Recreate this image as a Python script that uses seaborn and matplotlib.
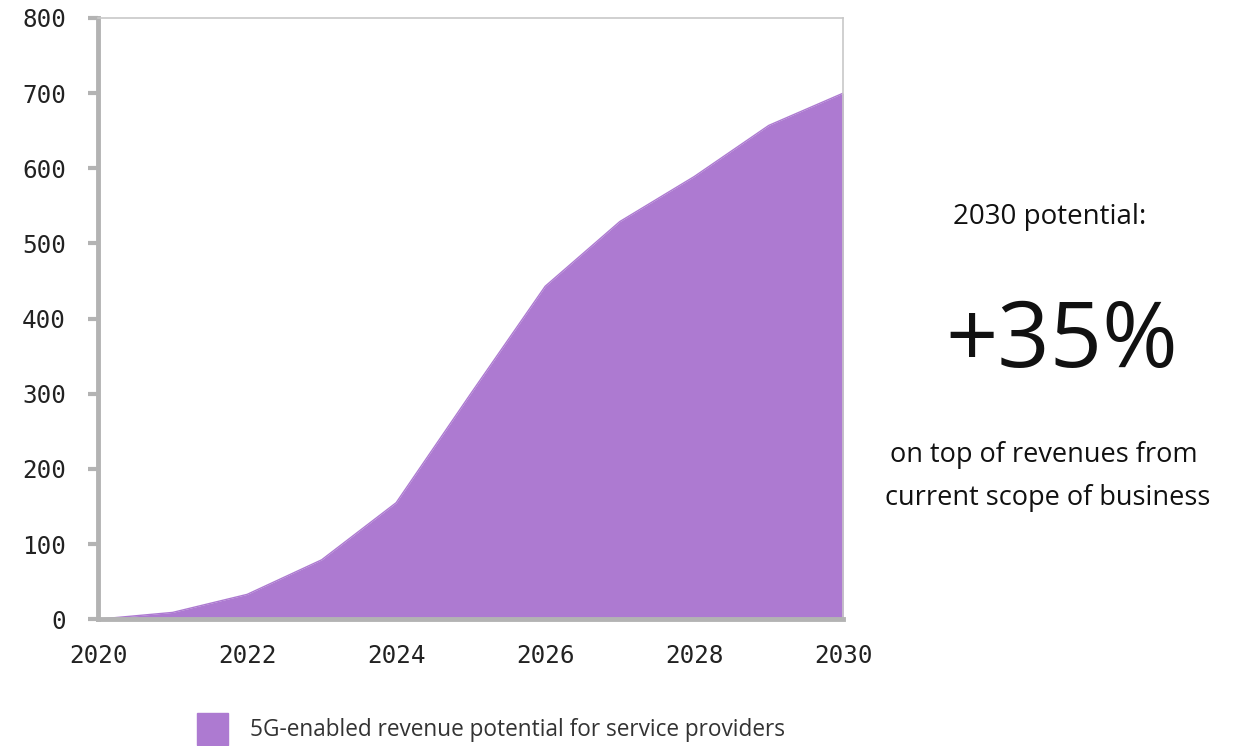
import matplotlib
matplotlib.use("Agg")
import matplotlib.pyplot as plt
import seaborn as sns
import pandas as pd
from matplotlib.patches import Rectangle

# Revenue potential (USD billion) per year
years = [2020, 2021, 2022, 2023, 2024, 2025, 2026, 2027, 2028, 2029, 2030]
revenue = [0, 9, 33, 79, 155, 300, 443, 529, 589, 657, 700]
series_label = "5G-enabled revenue potential for service providers"
y_ticks = [0, 100, 200, 300, 400, 500, 600, 700, 800]
x_ticks = [2020, 2022, 2024, 2026, 2028, 2030]

fill_color = "#AD7AD1"
spine_gray = "#B3B3B3"

sns.set_theme(style="white")
plt.rcParams["font.family"] = ["Open Sans", "DejaVu Sans"]

df = pd.DataFrame({"year": years, "revenue": revenue})

fig = plt.figure(figsize=(12.38, 7.46), dpi=100)
ax = fig.add_axes([0.0792, 0.170, 0.602, 0.806])

sns.lineplot(data=df, x="year", y="revenue", ax=ax, color=fill_color, linewidth=1)
ax.fill_between(df["year"], df["revenue"], 0, color=fill_color, linewidth=0)

ax.set_xlim(2020, 2030)
ax.set_ylim(0, 800)
ax.set_xticks(x_ticks)
ax.set_yticks(y_ticks)
ax.set_xlabel("")
ax.set_ylabel("")

mono = "DejaVu Sans Mono"
ax.tick_params(axis="y", which="both", left=True, length=7, width=3,
               color=spine_gray, pad=16, labelsize=17.5, labelcolor="#222222")
ax.tick_params(axis="x", which="both", bottom=False, pad=12,
               labelsize=17.5, labelcolor="#222222")
for lbl in ax.get_xticklabels() + ax.get_yticklabels():
    lbl.set_family(mono)

for side in ("left", "bottom"):
    ax.spines[side].set_color(spine_gray)
    ax.spines[side].set_linewidth(3.5)
for side in ("top", "right"):
    ax.spines[side].set_color("#C8C8C8")
    ax.spines[side].set_linewidth(1.2)

# Legend swatch and label below the chart
fig.patches.append(Rectangle((197 / 1238, 1 - 745 / 746), 31 / 1238, 32 / 746,
                             transform=fig.transFigure, color=fill_color))
fig.text(250 / 1238, 1 - 730 / 746, series_label, fontsize=16.3,
         color="#333333", va="center", ha="left")

# Side annotation
fig.text(1050 / 1238, 1 - 217 / 746, "2030 potential:", fontsize=20,
         color="#111111", ha="center", va="center")
fig.text(1062 / 1238, 1 - 343 / 746, "+35%", fontsize=66,
         color="#111111", ha="center", va="center")
fig.text(1044 / 1238, 1 - 455 / 746, "on top of revenues from", fontsize=19.5,
         color="#111111", ha="center", va="center")
fig.text(1048 / 1238, 1 - 498 / 746, "current scope of business", fontsize=19.5,
         color="#111111", ha="center", va="center")

fig.savefig("out.png", dpi=100, facecolor="white")
